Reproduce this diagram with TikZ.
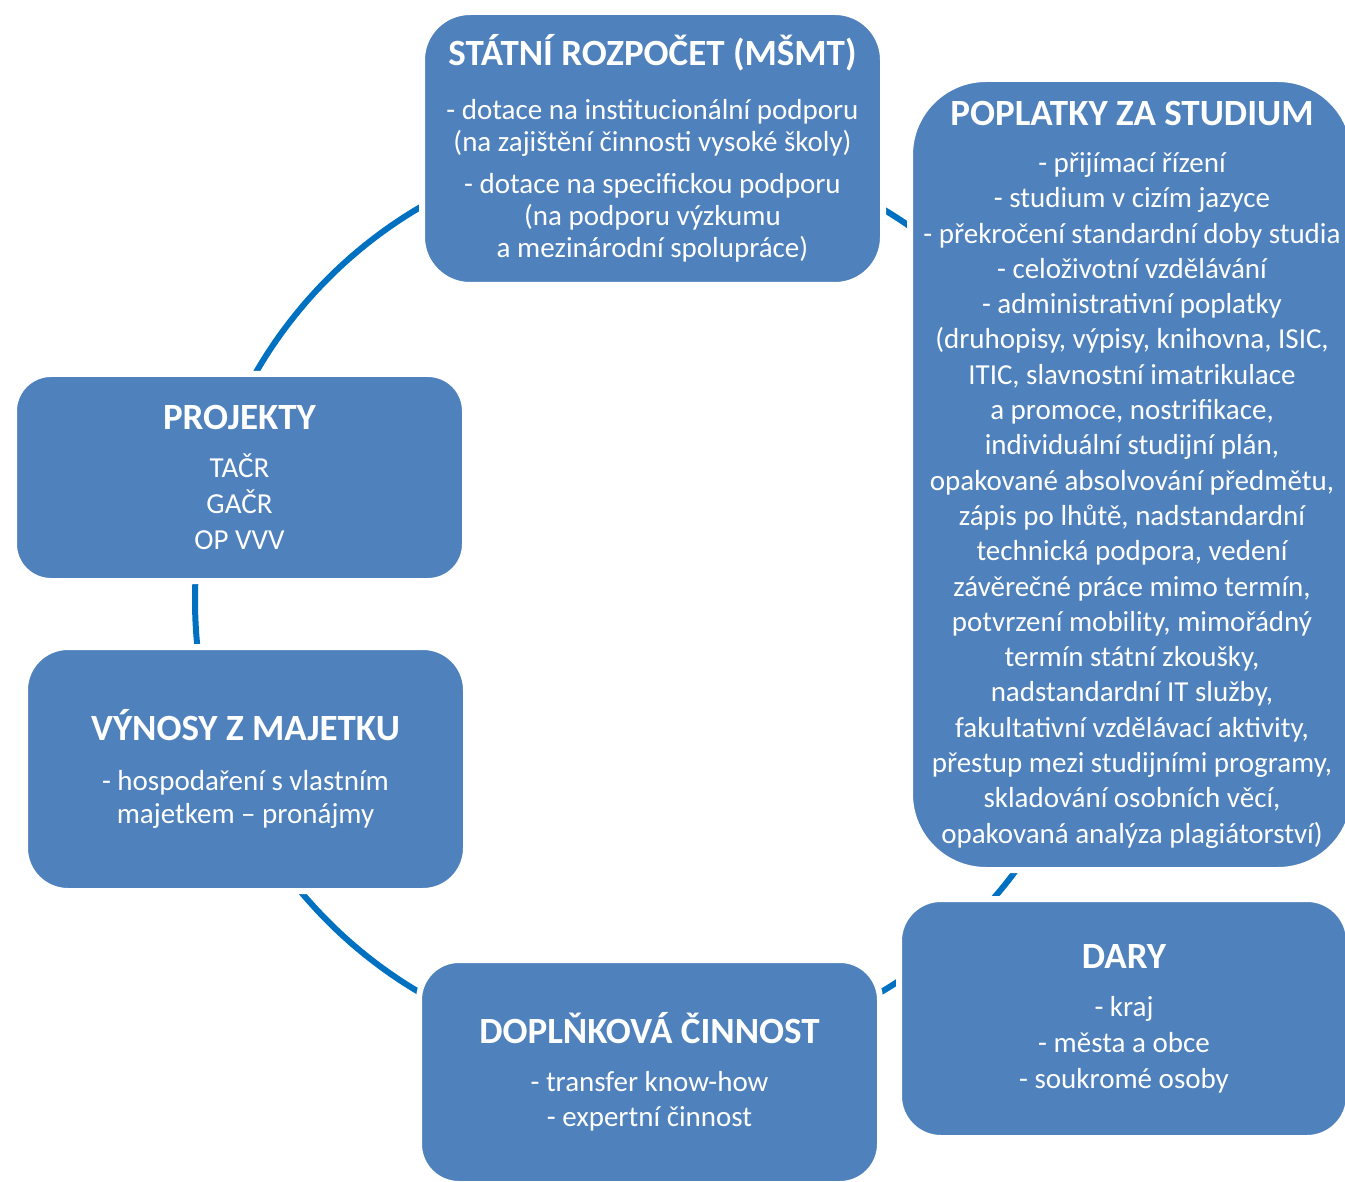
\documentclass[tikz,border=0pt]{standalone}
\usepackage{fontspec}
\setmainfont{Carlito}
\definecolor{boxblue}{HTML}{4F81BD}
\definecolor{ringblue}{HTML}{0070C0}

\begin{document}
\begin{tikzpicture}[x = 1pt, y = -1pt,
		source/.style={rectangle, fill = boxblue, draw = white, line width = 6pt, text = white,
			align = center, inner sep = 0pt, font = \fontsize{29}{35}\selectfont},
		ring/.style={draw = ringblue, line width = 6pt}
	]
	\useasboundingbox (0, 0) rectangle (1345, 1182);
	
	\coordinate (hub) at (650, 600);
	\draw[ring] (hub) circle[radius = 455];
	
	\node[source, minimum width = 461pt, minimum height = 273pt, rounded corners = 48pt] (state) at (652.5, 148.5)
		{{\fontsize{37}{42}\selectfont\bfseries STÁTNÍ ROZPOČET (MŠMT)}\\[19pt]
		- dotace na institucionální podporu\\[-3pt]
		(na zajištění činnosti vysoké školy)\\[7pt]
		- dotace na specifickou podporu\\[-3pt]
		(na podporu výzkumu\\[-3pt]
		a mezinárodní spolupráce)};
	
	\node[source, font = \fontsize{29}{35.3}\selectfont, minimum width = 444pt, minimum height = 791pt,
		rounded corners = 76pt] (fees) at (1132, 474.5)
		{{\fontsize{37}{42}\selectfont\bfseries POPLATKY ZA STUDIUM}\\[12pt]
		- přijímací řízení\\
		- studium v cizím jazyce\\
		- překročení standardní doby studia\\
		- celoživotní vzdělávání\\
		- administrativní poplatky\\
		(druhopisy, výpisy, knihovna, ISIC,\\
		ITIC, slavnostní imatrikulace\\
		a promoce, nostrifikace,\\
		individuální studijní plán,\\
		opakované absolvování předmětu,\\
		zápis po lhůtě, nadstandardní\\
		technická podpora, vedení\\
		závěrečné práce mimo termín,\\
		potvrzení mobility, mimořádný\\
		termín státní zkoušky,\\
		nadstandardní IT služby,\\
		fakultativní vzdělávací aktivity,\\
		přestup mezi studijními programy,\\
		skladování osobních věcí,\\
		opakovaná analýza plagiátorství)};
	
	\node[source, font = \fontsize{29}{36}\selectfont, minimum width = 451pt, minimum height = 207pt,
		rounded corners = 37pt] (projects) at (239.5, 477.5)
		{{\fontsize{37}{42}\selectfont\bfseries PROJEKTY}\\[12pt]
		TAČR\\
		GAČR\\
		OP VVV};
	
	\node[source, font = \fontsize{29}{33}\selectfont, minimum width = 441pt, minimum height = 244pt,
		rounded corners = 43pt] (assets) at (245.5, 769)
		{{\fontsize{37}{42}\selectfont\bfseries VÝNOSY Z MAJETKU}\\[17pt]
		- hospodaření s vlastním\\
		majetkem – pronájmy};
	
	\node[source, minimum width = 461pt, minimum height = 224pt, rounded corners = 40pt] (extra) at (649.5, 1072)
		{{\fontsize{37}{42}\selectfont\bfseries DOPLŇKOVÁ ČINNOST}\\[13pt]
		- transfer know-how\\
		- expertní činnost};
	
	\node[source, font = \fontsize{29}{36}\selectfont, minimum width = 450pt, minimum height = 239pt,
		rounded corners = 42pt] (gifts) at (1124, 1018.5)
		{{\fontsize{37}{42}\selectfont\bfseries DARY}\\[12pt]
		- kraj\\
		- města a obce\\
		- soukromé osoby};
	
\end{tikzpicture}
\end{document}
